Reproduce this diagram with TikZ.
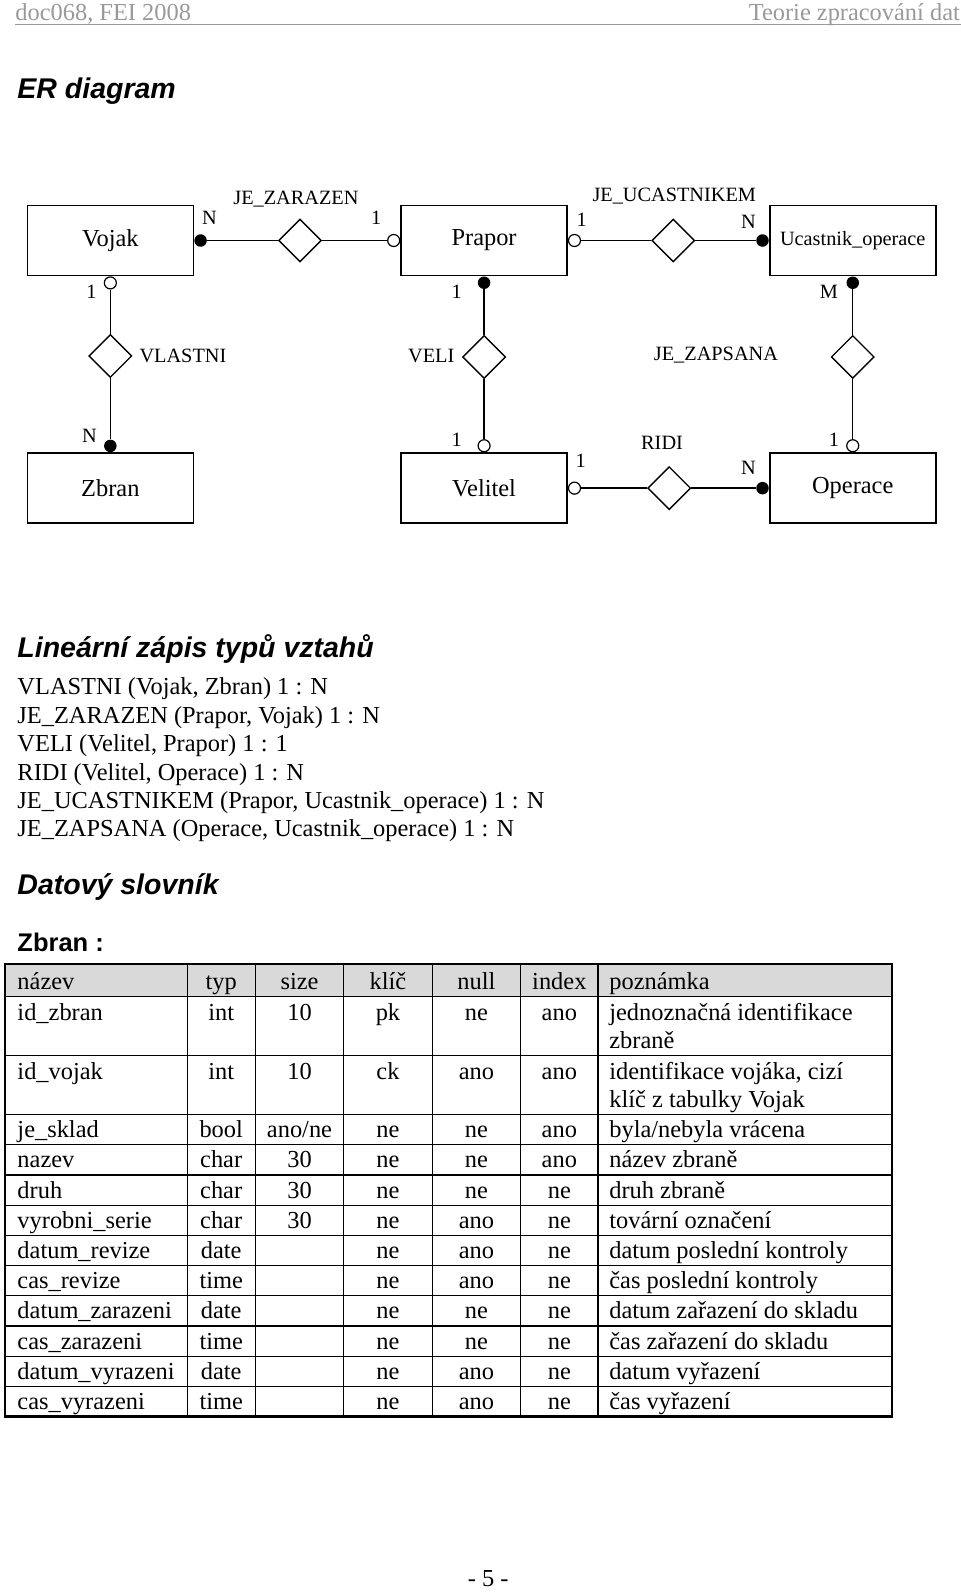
\documentclass[tikz,border=0pt]{standalone}
\usepackage{fontspec}
\setmainfont{Liberation Serif}
\newfontfamily\headsans{Liberation Sans}
\usetikzlibrary{shapes.geometric,positioning}
\def\bodyfont{\fontsize{24.4}{28.5}\selectfont}
\def\labelfont{\fontsize{20.3}{24}\selectfont}
\def\titlefont{\headsans\bfseries\itshape\fontsize{28.5}{33}\selectfont}
\definecolor{headgray}{gray}{0.6}
\definecolor{rowgray}{gray}{0.85}

\begin{document}
\begin{tikzpicture}[x=1.017pt, y=-1.017pt,
		entity/.style={draw, line width=1.6pt, minimum width=166pt, minimum height=70pt, inner sep=0pt, font=\bodyfont},
		relation/.style={draw, diamond, aspect=1, line width=1.4pt, minimum width=43pt, minimum height=43pt, inner sep=0pt},
		one/.style={draw, circle, fill=white, line width=1.2pt, minimum size=12pt, inner sep=0pt},
		many/.style={circle, fill=black, minimum size=12.5pt, inner sep=0pt},
		card/.style={font=\labelfont, inner sep=0pt},
		link/.style={line width=1.4pt},
		txt/.style={font=\bodyfont, inner sep=0pt},
		title/.style={font=\titlefont, inner sep=0pt, anchor=base west}]
			%%%%% START %%%%%
			\useasboundingbox (0,0) rectangle (944,1566.4);
			
			% page header
			\node[txt, anchor=base west, text=headgray] (doc) at (15,20) {doc068, FEI 2008};
			\node[txt, anchor=base east, text=headgray] (subject) at (944,20) {Teorie zpracování dat};
			\draw[headgray, line width=1.8pt] (15,24) -- (945,24);
			
			\node[title] (ertitle) at (17,97) {ER diagram};
			
			% entities
			\node[entity] (vojak) at (108.5,236.5) {Vojak};
			\node[entity] (prapor) at (476,236.5) {Prapor};
			\node[entity, font=\labelfont] (ucastnik) at (838.5,236.5) {Ucastnik\_operace};
			\node[entity] (zbran) at (108.5,480) {Zbran};
			\node[entity] (velitel) at (476,480) {Velitel};
			\node[entity] (operace) at (838.5,480) {Operace};
			
			% cardinality ends
			\node[many, right=0pt of vojak] (vojakR) {};
			\node[one, below=0pt of vojak] (vojakB) {};
			\node[one, left=0pt of prapor] (praporL) {};
			\node[one, right=0pt of prapor] (praporR) {};
			\node[many, below=0pt of prapor] (praporB) {};
			\node[many, left=0pt of ucastnik] (ucastnikL) {};
			\node[many, below=0pt of ucastnik] (ucastnikB) {};
			\node[many, above=0pt of zbran] (zbranT) {};
			\node[one, above=0pt of velitel] (velitelT) {};
			\node[one, right=0pt of velitel] (velitelR) {};
			\node[one, above=0pt of operace] (operaceT) {};
			\node[many, left=0pt of operace] (operaceL) {};
			
			% relationships
			\node[relation] (zarazen) at (295,236.5) {};
			\node[relation] (ucast) at (662,236.5) {};
			\node[relation] (vlastni) at (108.5,350) {};
			\node[relation] (veli) at (476,351) {};
			\node[relation] (zapsana) at (838.5,351) {};
			\node[relation] (ridi) at (658,480) {};
			
			\draw[link] (vojakR) -- (zarazen) -- (praporL);
			\draw[link] (praporR) -- (ucast) -- (ucastnikL);
			\draw[link] (vojakB) -- (vlastni) -- (zbranT);
			\draw[link] (praporB) -- (veli) -- (velitelT);
			\draw[link] (ucastnikB) -- (zapsana) -- (operaceT);
			\draw[link] (velitelR) -- (ridi) -- (operaceL);
			
			\node[card] (zarazenLbl) at (291,196) {JE\_ZARAZEN};
			\node[card] (ucastLbl) at (663,193) {JE\_UCASTNIKEM};
			\node[card, anchor=west] (vlastniLbl) at (137,350) {VLASTNI};
			\node[card, anchor=east] (veliLbl) at (447,350) {VELI};
			\node[card] (zapsanaLbl) at (704,349) {JE\_ZAPSANA};
			\node[card] (ridiLbl) at (651,435) {RIDI};
			
			\node[card] (n1) at (206,214) {N};
			\node[card] (n2) at (370,214) {1};
			\node[card] (n3) at (572,216) {1};
			\node[card] (n4) at (736,218) {N};
			\node[card] (n5) at (90,287) {1};
			\node[card] (n6) at (88,429) {N};
			\node[card] (n7) at (449,287) {1};
			\node[card] (n8) at (449,432) {1};
			\node[card] (n9) at (815,287) {M};
			\node[card] (n10) at (820,432) {1};
			\node[card] (n11) at (571,453) {1};
			\node[card] (n12) at (736,460) {N};
			
			% linear notation
			\node[title] (lintitle) at (17,647) {Lineární zápis typů vztahů};
			\node[txt, anchor=base west] (lin1) at (17,683) {VLASTNI (Vojak, Zbran) 1 : N};
			\node[txt, anchor=base west] (lin2) at (17,711) {JE\_ZARAZEN (Prapor, Vojak) 1 : N};
			\node[txt, anchor=base west] (lin3) at (17,739) {VELI (Velitel, Prapor) 1 : 1};
			\node[txt, anchor=base west] (lin4) at (17,767) {RIDI (Velitel, Operace) 1 : N};
			\node[txt, anchor=base west] (lin5) at (17,795) {JE\_UCASTNIKEM (Prapor, Ucastnik\_operace) 1 : N};
			\node[txt, anchor=base west] (lin6) at (17,823) {JE\_ZAPSANA (Operace, Ucastnik\_operace) 1 : N};
			
			% data dictionary
			\node[title] (dictitle) at (17,880) {Datový slovník};
			\node[title, font=\headsans\bfseries\fontsize{25.5}{30}\selectfont] (tabtitle) at (17,936) {Zbran :};
			
			\fill[rowgray] (5,948) rectangle (877,980);
			\foreach \y in {980,1038,1096,1125.7,1155.4,1185.1,1214.8,1244.5,1274.2,1303.9,1333.6,1363.3}
				\draw[line width=1.2pt] (5,\y) -- (877,\y);
			\foreach \x in {184,251,338,425,512,588}
				\draw[line width=1.2pt] (\x,948) -- (\x,1393);
			\draw[line width=2.6pt] (5,948) rectangle (877,1393);
			
			\foreach \i/\y/\a/\b/\c/\d/\e/\f/\g in {
				0/973/název/typ/size/klíč/null/index/poznámka,
				1/1003/id\_zbran/int/10/pk/ne/ano/jednoznačná identifikace,
				2/1061/id\_vojak/int/10/ck/ano/ano/{identifikace vojáka, cizí},
				3/1118.7/je\_sklad/bool/{ano/ne}/ne/ne/ano/{byla/nebyla vrácena},
				4/1148.4/nazev/char/30/ne/ne/ano/název zbraně,
				5/1178.1/druh/char/30/ne/ne/ne/druh zbraně,
				6/1207.8/vyrobni\_serie/char/30/ne/ano/ne/tovární označení,
				7/1237.5/datum\_revize/date//ne/ano/ne/datum poslední kontroly,
				8/1267.2/cas\_revize/time//ne/ano/ne/čas poslední kontroly,
				9/1296.9/datum\_zarazeni/date//ne/ne/ne/datum zařazení do skladu,
				10/1326.6/cas\_zarazeni/time//ne/ne/ne/čas zařazení do skladu,
				11/1356.3/datum\_vyrazeni/date//ne/ano/ne/datum vyřazení,
				12/1386/cas\_vyrazeni/time//ne/ano/ne/čas vyřazení}
			{
				\node[txt, anchor=base west] (name-\i) at (17,\y) {\a};
				\node[txt, anchor=base] (type-\i) at (217.5,\y) {\b};
				\node[txt, anchor=base] (size-\i) at (294.5,\y) {\c};
				\node[txt, anchor=base] (key-\i) at (381.5,\y) {\d};
				\node[txt, anchor=base] (null-\i) at (468.5,\y) {\e};
				\node[txt, anchor=base] (index-\i) at (550,\y) {\f};
				\node[txt, anchor=base west] (note-\i) at (599,\y) {\g};
			}
			\node[txt, anchor=base west] (note-1b) at (599,1031) {zbraně};
			\node[txt, anchor=base west] (note-2b) at (599,1089) {klíč z tabulky Vojak};
			
			\node[txt, anchor=base] (pagenum) at (480,1560) {- 5 -};
			%%%%% END %%%%%
\end{tikzpicture}
\end{document}
